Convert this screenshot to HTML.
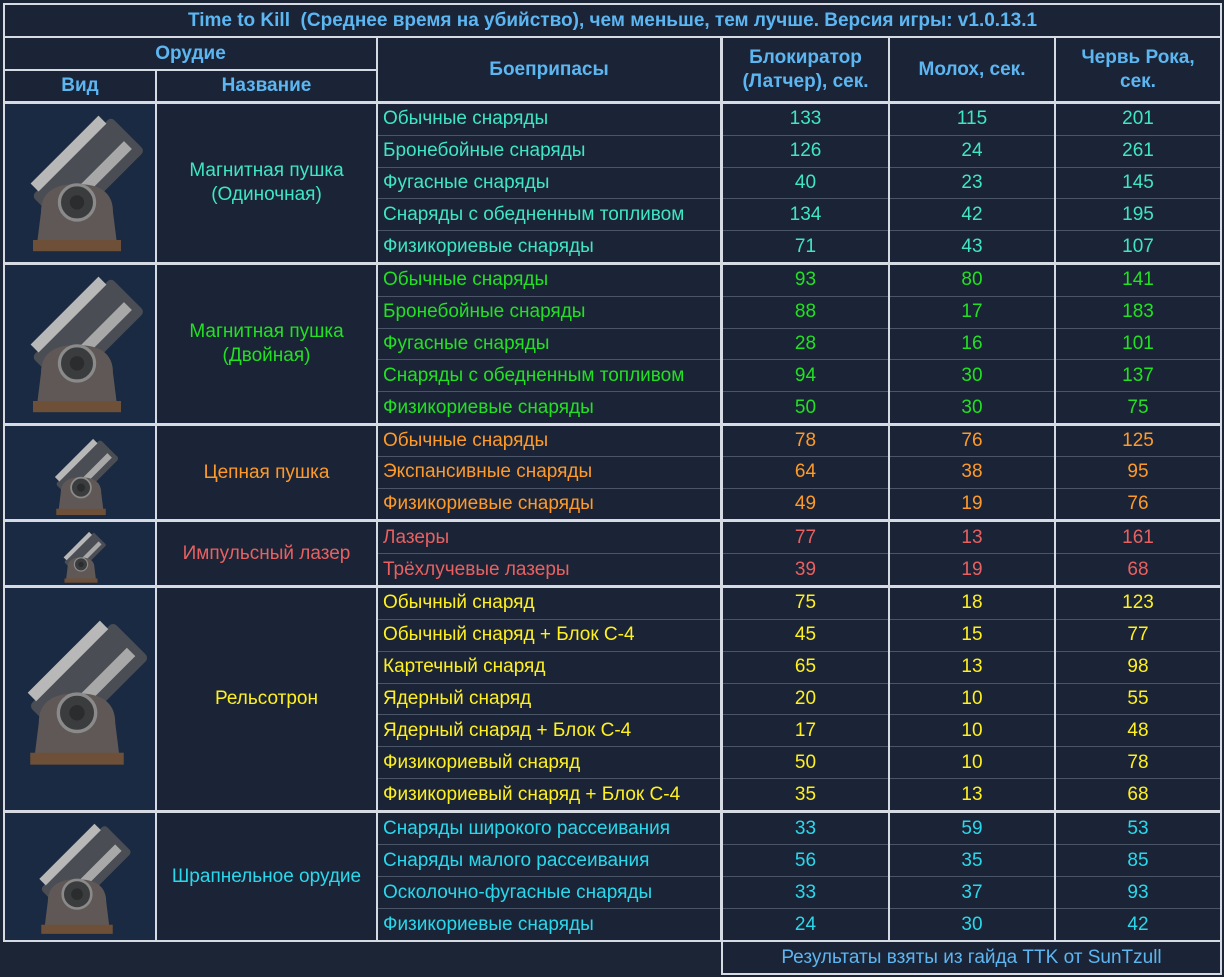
<!DOCTYPE html>
<html><head><meta charset="utf-8"><style>
body{margin:0;width:1224px;height:977px;background:#1c2536;position:relative;overflow:hidden;font-family:"Liberation Sans",sans-serif}
.b{position:absolute;background:#d6dae2}
.c{position:absolute;background:#1b2436;display:flex;align-items:center;justify-content:center;text-align:center;font-size:19px;line-height:24px}
.h{color:#5cb6f2;font-weight:bold}
.col{position:absolute;background:#1b2436;display:flex;flex-direction:column;font-size:19px}
.col div{flex:1;display:flex;align-items:center;justify-content:center;border-top:1px solid #4a5568}
.col div:first-child{border-top:none}
.col.l div{justify-content:flex-start;padding-left:5px}
.img{position:absolute;background:#1a2a42;overflow:hidden}
.t1{color:#3ee6c6}.t2{color:#22e022}.t3{color:#ff9a28}.t4{color:#e86060}.t5{color:#fff020}.t6{color:#2ad8ec}
</style></head><body>
<svg width="0" height="0" style="position:absolute"><defs>
<g id="tur">
<rect x="-70" y="-20" width="140" height="60" rx="6" fill="#4a4e54" transform="rotate(-45) translate(30,-20)"/>
<rect x="-60" y="-12" width="120" height="14" fill="#b8b8b8" transform="rotate(-45) translate(30,-40)"/>
<rect x="-60" y="-12" width="120" height="14" fill="#a8a8a8" transform="rotate(-45) translate(30,5)"/>
<path d="M-45 20 Q-45 -15 0 -15 Q45 -15 45 20 L50 60 L-50 60 Z" fill="#5f5856"/>
<circle cx="0" cy="8" r="22" fill="#3a3c3e" stroke="#8a8a8a" stroke-width="4"/>
<circle cx="0" cy="8" r="9" fill="#2a2c2e"/>
<rect x="-55" y="55" width="110" height="14" fill="#6e5038"/>
</g></defs></svg>

<div class="b" style="left:3px;top:3px;width:1219px;height:939px"></div>
<div class="b" style="left:721px;top:940px;width:501px;height:35px"></div>

<div class="c h" style="left:5px;top:5px;width:1215px;height:31px">Time to Kill&nbsp; (Среднее время на убийство), чем меньше, тем лучше. Версия игры: v1.0.13.1</div>
<div class="c h" style="left:5px;top:38px;width:371px;height:31px">Орудие</div>
<div class="c h" style="left:5px;top:71px;width:150px;height:30px">Вид</div>
<div class="c h" style="left:157px;top:71px;width:219px;height:30px">Название</div>
<div class="c h" style="left:378px;top:38px;width:342px;height:63px">Боеприпасы</div>
<div class="c h" style="left:723px;top:38px;width:165px;height:63px">Блокиратор<br>(Латчер), сек.</div>
<div class="c h" style="left:890px;top:38px;width:164px;height:63px">Молох, сек.</div>
<div class="c h" style="left:1056px;top:38px;width:164px;height:63px">Червь Рока,<br>сек.</div>

<div class="img" style="left:5px;top:104px;width:150px;height:158px"><svg width="150" height="158"><use href="#tur" transform="translate(72,92) scale(0.8)"/></svg></div>
<div class="c t1" style="left:157px;top:104px;width:219px;height:158px">Магнитная пушка<br>(Одиночная)</div>
<div class="col l t1" style="left:378px;top:104px;width:342px;height:158px"><div>Обычные снаряды</div><div>Бронебойные снаряды</div><div>Фугасные снаряды</div><div>Снаряды с обедненным топливом</div><div>Физикориевые снаряды</div></div>
<div class="col t1" style="left:723px;top:104px;width:165px;height:158px"><div>133</div><div>126</div><div>40</div><div>134</div><div>71</div></div>
<div class="col t1" style="left:890px;top:104px;width:164px;height:158px"><div>115</div><div>24</div><div>23</div><div>42</div><div>43</div></div>
<div class="col t1" style="left:1056px;top:104px;width:164px;height:158px"><div>201</div><div>261</div><div>145</div><div>195</div><div>107</div></div>

<div class="img" style="left:5px;top:265px;width:150px;height:158px"><svg width="150" height="158"><use href="#tur" transform="translate(72,92) scale(0.8)"/></svg></div>
<div class="c t2" style="left:157px;top:265px;width:219px;height:158px">Магнитная пушка<br>(Двойная)</div>
<div class="col l t2" style="left:378px;top:265px;width:342px;height:158px"><div>Обычные снаряды</div><div>Бронебойные снаряды</div><div>Фугасные снаряды</div><div>Снаряды с обедненным топливом</div><div>Физикориевые снаряды</div></div>
<div class="col t2" style="left:723px;top:265px;width:165px;height:158px"><div>93</div><div>88</div><div>28</div><div>94</div><div>50</div></div>
<div class="col t2" style="left:890px;top:265px;width:164px;height:158px"><div>80</div><div>17</div><div>16</div><div>30</div><div>30</div></div>
<div class="col t2" style="left:1056px;top:265px;width:164px;height:158px"><div>141</div><div>183</div><div>101</div><div>137</div><div>75</div></div>

<div class="img" style="left:5px;top:426px;width:150px;height:93px"><svg width="150" height="93"><use href="#tur" transform="translate(76,58) scale(0.45)"/></svg></div>
<div class="c t3" style="left:157px;top:426px;width:219px;height:93px">Цепная пушка</div>
<div class="col l t3" style="left:378px;top:426px;width:342px;height:93px"><div>Обычные снаряды</div><div>Экспансивные снаряды</div><div>Физикориевые снаряды</div></div>
<div class="col t3" style="left:723px;top:426px;width:165px;height:93px"><div>78</div><div>64</div><div>49</div></div>
<div class="col t3" style="left:890px;top:426px;width:164px;height:93px"><div>76</div><div>38</div><div>19</div></div>
<div class="col t3" style="left:1056px;top:426px;width:164px;height:93px"><div>125</div><div>95</div><div>76</div></div>

<div class="img" style="left:5px;top:522px;width:150px;height:63px"><svg width="150" height="63"><use href="#tur" transform="translate(76,40) scale(0.3)"/></svg></div>
<div class="c t4" style="left:157px;top:522px;width:219px;height:63px">Импульсный лазер</div>
<div class="col l t4" style="left:378px;top:522px;width:342px;height:63px"><div>Лазеры</div><div>Трёхлучевые лазеры</div></div>
<div class="col t4" style="left:723px;top:522px;width:165px;height:63px"><div>77</div><div>39</div></div>
<div class="col t4" style="left:890px;top:522px;width:164px;height:63px"><div>13</div><div>19</div></div>
<div class="col t4" style="left:1056px;top:522px;width:164px;height:63px"><div>161</div><div>68</div></div>

<div class="img" style="left:5px;top:588px;width:150px;height:222px"><svg width="150" height="222"><use href="#tur" transform="translate(72,118) scale(0.85)"/></svg></div>
<div class="c t5" style="left:157px;top:588px;width:219px;height:222px">Рельсотрон</div>
<div class="col l t5" style="left:378px;top:588px;width:342px;height:222px"><div>Обычный снаряд</div><div>Обычный снаряд + Блок С-4</div><div>Картечный снаряд</div><div>Ядерный снаряд</div><div>Ядерный снаряд + Блок С-4</div><div>Физикориевый снаряд</div><div>Физикориевый снаряд + Блок С-4</div></div>
<div class="col t5" style="left:723px;top:588px;width:165px;height:222px"><div>75</div><div>45</div><div>65</div><div>20</div><div>17</div><div>50</div><div>35</div></div>
<div class="col t5" style="left:890px;top:588px;width:164px;height:222px"><div>18</div><div>15</div><div>13</div><div>10</div><div>10</div><div>10</div><div>13</div></div>
<div class="col t5" style="left:1056px;top:588px;width:164px;height:222px"><div>123</div><div>77</div><div>98</div><div>55</div><div>48</div><div>78</div><div>68</div></div>

<div class="img" style="left:5px;top:813px;width:150px;height:127px"><svg width="150" height="127"><use href="#tur" transform="translate(72,76) scale(0.65)"/></svg></div>
<div class="c t6" style="left:157px;top:813px;width:219px;height:127px">Шрапнельное орудие</div>
<div class="col l t6" style="left:378px;top:813px;width:342px;height:127px"><div>Снаряды широкого рассеивания</div><div>Снаряды малого рассеивания</div><div>Осколочно-фугасные снаряды</div><div>Физикориевые снаряды</div></div>
<div class="col t6" style="left:723px;top:813px;width:165px;height:127px"><div>33</div><div>56</div><div>33</div><div>24</div></div>
<div class="col t6" style="left:890px;top:813px;width:164px;height:127px"><div>59</div><div>35</div><div>37</div><div>30</div></div>
<div class="col t6" style="left:1056px;top:813px;width:164px;height:127px"><div>53</div><div>85</div><div>93</div><div>42</div></div>

<div class="c" style="left:723px;top:942px;width:497px;height:31px;color:#5cb6f2">Результаты взяты из гайда TTK от SunTzull</div>
</body></html>
